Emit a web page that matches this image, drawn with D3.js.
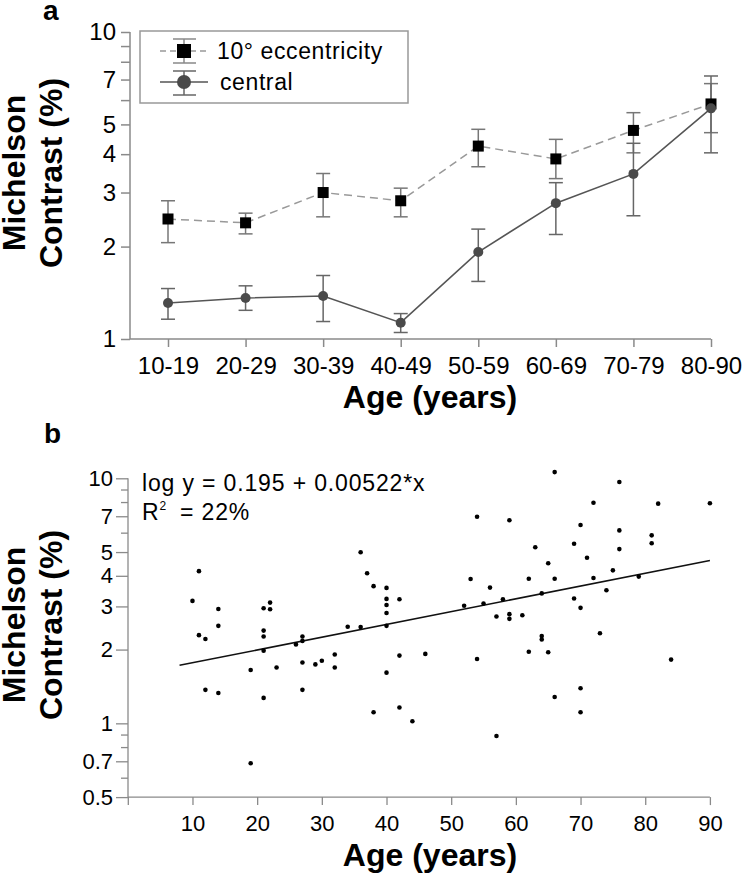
<!DOCTYPE html>
<html><head><meta charset="utf-8">
<script src="https://cdn.jsdelivr.net/npm/d3@7"></script>
<style>
body{margin:0;background:#fff}
svg{display:block}
text{font-family:'Liberation Sans',Arial,Helvetica,sans-serif}
</style>
</head><body>
<svg id="chart" width="742" height="877"></svg>
<script>
// ---------- Panel a data ----------
const ageGroups = ["10-19","20-29","30-39","40-49","50-59","60-69","70-79","80-90"];
const eccMean = [2.46, 2.39, 3.00, 2.82, 4.25, 3.86, 4.78, 5.83];
const eccLow  = [2.06, 2.20, 2.50, 2.50, 3.64, 3.33, 4.04, 4.70];
const eccHigh = [2.82, 2.57, 3.46, 3.10, 4.82, 4.47, 5.46, 6.79];
const centralMean = [1.31, 1.36, 1.38, 1.13, 1.92, 2.77, 3.45, 5.64];
const centralLow  = [1.16, 1.24, 1.14, 1.05, 1.54, 2.19, 2.52, 4.04];
const centralHigh = [1.46, 1.49, 1.61, 1.21, 2.28, 3.23, 4.34, 7.19];
const yTicksA = [1, 2, 3, 4, 5, 7, 10];
const yMinorA = [6, 8, 9];
const legendLabels = ["10° eccentricity", "central"];

// ---------- Panel b data ----------
const ages = [11,10,14,21,22,22,11,12,14,21,
              21,21,26,19,23,12,14,21,19,54,
              59,36,37,38,40,40,40,42,53,56,
              52,55,58,40,40,34,36,27,27,27,
              29,30,32,32,27,40,42,46,38,42,
              44,54,57,59,59,57,66,76,72,82,
              90,70,76,81,81,69,76,63,71,65,
              62,66,72,75,79,64,74,69,70,61,
              73,64,64,62,65,84,70,66,70];
const contrasts = [4.18,3.16,2.93,2.95,3.11,2.92,2.29,2.21,2.50,2.39,
                   2.26,1.98,2.10,1.65,1.69,1.37,1.33,1.27,0.687,6.97,
                   6.74,4.99,4.10,3.63,3.57,3.22,3.04,3.21,3.88,3.58,
                   3.02,3.08,3.21,2.82,2.50,2.48,2.47,2.26,2.17,1.77,
                   1.74,1.80,1.91,1.69,1.37,1.61,1.89,1.92,1.11,1.16,
                   1.02,1.83,2.73,2.79,2.67,0.888,10.6,9.66,7.95,7.88,
                   7.91,6.45,6.13,5.85,5.43,5.41,5.14,5.23,4.74,4.50,
                   3.89,3.89,3.92,4.21,3.97,3.39,3.49,3.23,2.96,2.76,
                   2.33,2.27,2.20,1.96,1.95,1.82,1.39,1.28,1.11];
const xTicksB = [10,20,30,40,50,60,70,80,90];
const yTicksB = [0.5,0.7,1,2,3,4,5,7,10];
const yMinorB = [0.6,0.8,0.9,6,8,9];
const fitIntercept = 0.195, fitSlope = 0.00522;
const fitAges = [8, 90];

const svg = d3.select("#chart");
const axisColor = "#8a8a8a";

// ================= PANEL A =================
const xA = d3.scalePoint().domain(ageGroups).range([168, 711]);
const yA = d3.scaleLog().domain([1, 10]).range([339, 32]);
const gA = svg.append("g");

const yAxA = gA.append("g").attr("transform","translate(130,0)")
  .call(d3.axisLeft(yA).tickValues(yTicksA).tickFormat(d3.format("d")).tickSize(9).tickPadding(5));
const yAxAm = gA.append("g").attr("transform","translate(130,0)")
  .call(d3.axisLeft(yA).tickValues(yMinorA).tickFormat("").tickSize(9));
const xAxA = gA.append("g").attr("transform","translate(0,339)")
  .call(d3.axisBottom(xA).tickSize(8).tickPadding(10));
[yAxA, yAxAm, xAxA].forEach(ax => {
  ax.select(".domain").remove();
  ax.selectAll(".tick line").attr("stroke", axisColor).attr("stroke-width",1.5);
  ax.selectAll(".tick text").attr("font-size", 24).attr("fill","#000")
    .style("font-family","'Liberation Sans',Arial,sans-serif");
});
gA.append("line").attr("x1",130).attr("x2",130).attr("y1",yA(10)).attr("y2",yA(1))
  .attr("stroke",axisColor).attr("stroke-width",1.5);
gA.append("line").attr("x1",130).attr("x2",xA("80-90")).attr("y1",339).attr("y2",339)
  .attr("stroke",axisColor).attr("stroke-width",1.5);

function errorBars(g, lows, highs, color) {
  ageGroups.forEach((c,i) => {
    const x = xA(c);
    g.append("line").attr("x1",x).attr("x2",x).attr("y1",yA(lows[i])).attr("y2",yA(highs[i]))
      .attr("stroke",color).attr("stroke-width",1.5);
    [lows[i], highs[i]].forEach(v => {
      g.append("line").attr("x1",x-7).attr("x2",x+7).attr("y1",yA(v)).attr("y2",yA(v))
        .attr("stroke",color).attr("stroke-width",1.5);
    });
  });
}
errorBars(gA, eccLow, eccHigh, "#777");
errorBars(gA, centralLow, centralHigh, "#666");

const lineA = d3.line().x((d,i)=>xA(ageGroups[i])).y(d=>yA(d));
gA.append("path").attr("d", lineA(eccMean)).attr("fill","none")
  .attr("stroke","#999").attr("stroke-width",1.5).attr("stroke-dasharray","8,5");
gA.append("path").attr("d", lineA(centralMean)).attr("fill","none")
  .attr("stroke","#555").attr("stroke-width",1.6);

gA.selectAll("rect.ecc").data(eccMean).join("rect").attr("class","ecc")
  .attr("x",(d,i)=>xA(ageGroups[i])-5.5).attr("y",d=>yA(d)-5.5)
  .attr("width",11).attr("height",11).attr("fill","#000");
gA.selectAll("circle.cen").data(centralMean).join("circle").attr("class","cen")
  .attr("cx",(d,i)=>xA(ageGroups[i])).attr("cy",d=>yA(d)).attr("r",5)
  .attr("fill","#4a4a4a");

// legend
const lg = gA.append("g");
lg.append("rect").attr("x",140).attr("y",31).attr("width",268).attr("height",72)
  .attr("fill","#fff").attr("stroke","#999").attr("stroke-width",1.5);
lg.append("line").attr("x1",160).attr("x2",208).attr("y1",51).attr("y2",51)
  .attr("stroke","#999").attr("stroke-width",1.5).attr("stroke-dasharray","6,4");
lg.append("line").attr("x1",184).attr("x2",184).attr("y1",39).attr("y2",63).attr("stroke","#888").attr("stroke-width",1.5);
[39,63].forEach(y=>lg.append("line").attr("x1",173).attr("x2",196).attr("y1",y).attr("y2",y).attr("stroke","#888").attr("stroke-width",1.5));
lg.append("rect").attr("x",177).attr("y",44).attr("width",14).attr("height",14).attr("fill","#000");
lg.append("text").attr("x",217).attr("y",59).attr("font-size",23).attr("letter-spacing",0.6).text(legendLabels[0]);
lg.append("line").attr("x1",160).attr("x2",208).attr("y1",82).attr("y2",82)
  .attr("stroke","#555").attr("stroke-width",1.6);
lg.append("line").attr("x1",184).attr("x2",184).attr("y1",71).attr("y2",95).attr("stroke","#666").attr("stroke-width",1.5);
[71,95].forEach(y=>lg.append("line").attr("x1",173).attr("x2",196).attr("y1",y).attr("y2",y).attr("stroke","#666").attr("stroke-width",1.5));
lg.append("circle").attr("cx",184).attr("cy",82).attr("r",7).attr("fill","#4a4a4a");
lg.append("text").attr("x",220).attr("y",90).attr("font-size",23).attr("letter-spacing",0.6).text(legendLabels[1]);

// titles
svg.append("text").attr("x",43).attr("y",20).attr("font-size",28).attr("font-weight","bold").text("a");
svg.append("text").attr("transform","translate(25,173) rotate(-90)").attr("text-anchor","middle")
  .attr("font-size",32).attr("font-weight","bold").text("Michelson");
svg.append("text").attr("transform","translate(62,173) rotate(-90)").attr("text-anchor","middle")
  .attr("font-size",32).attr("font-weight","bold").text("Contrast (%)");
svg.append("text").attr("x",430).attr("y",408).attr("text-anchor","middle")
  .attr("font-size",32).attr("font-weight","bold").text("Age (years)");

// ================= PANEL B =================
const xB = d3.scaleLinear().domain([0, 90]).range([127.8, 709.9]);
const yB = d3.scaleLog().domain([0.5, 10]).range([797.1, 478.3]);
const gB = svg.append("g");

const yAxB = gB.append("g").attr("transform","translate(128,0)")
  .call(d3.axisLeft(yB).tickValues(yTicksB).tickFormat(d => String(d)).tickSize(12).tickPadding(3));
const yAxBm = gB.append("g").attr("transform","translate(128,0)")
  .call(d3.axisLeft(yB).tickValues(yMinorB).tickFormat("").tickSize(7));
const xAxB = gB.append("g").attr("transform","translate(0,797.1)")
  .call(d3.axisBottom(xB).tickValues([0].concat(xTicksB)).tickFormat(d => d===0 ? "" : d).tickSize(8).tickPadding(10));
[yAxB, yAxBm, xAxB].forEach(ax => {
  ax.select(".domain").remove();
  ax.selectAll(".tick line").attr("stroke", axisColor).attr("stroke-width",1.3);
  ax.selectAll(".tick text").attr("font-size", 22).attr("fill","#000")
    .style("font-family","'Liberation Sans',Arial,sans-serif");
});
gB.append("line").attr("x1",128).attr("x2",128).attr("y1",yB(10)).attr("y2",yB(0.5))
  .attr("stroke",axisColor).attr("stroke-width",1.3);
gB.append("line").attr("x1",128).attr("x2",xB(90)).attr("y1",yB(0.5)).attr("y2",yB(0.5))
  .attr("stroke",axisColor).attr("stroke-width",1.3);

const fitLine = d3.line().x(d=>xB(d)).y(d=>yB(Math.pow(10, fitIntercept + fitSlope*d)));
gB.append("path").attr("d", fitLine(fitAges)).attr("fill","none")
  .attr("stroke","#111").attr("stroke-width",1.6);

gB.selectAll("circle.pt").data(ages).join("circle").attr("class","pt")
  .attr("cx",d=>xB(d)).attr("cy",(d,i)=>yB(contrasts[i])).attr("r",2.3).attr("fill","#000");

gB.append("text").attr("x",142).attr("y",491).attr("font-size",23).attr("letter-spacing",0.85)
  .text("log y = " + fitIntercept + " + " + fitSlope + "*x");
const r2 = gB.append("text").attr("x",142).attr("y",520).attr("font-size",23).attr("letter-spacing",0.85);
r2.append("tspan").text("R");
r2.append("tspan").attr("font-size",12).attr("dy",-10).text("2");
r2.append("tspan").attr("x",180).attr("dy",10).text("= 22%");

svg.append("text").attr("x",44).attr("y",443).attr("font-size",28).attr("font-weight","bold").text("b");
svg.append("text").attr("transform","translate(25,625) rotate(-90)").attr("text-anchor","middle")
  .attr("font-size",32).attr("font-weight","bold").text("Michelson");
svg.append("text").attr("transform","translate(62,625) rotate(-90)").attr("text-anchor","middle")
  .attr("font-size",32).attr("font-weight","bold").text("Contrast (%)");
svg.append("text").attr("x",430).attr("y",866).attr("text-anchor","middle")
  .attr("font-size",32).attr("font-weight","bold").text("Age (years)");
</script>
</body></html>
